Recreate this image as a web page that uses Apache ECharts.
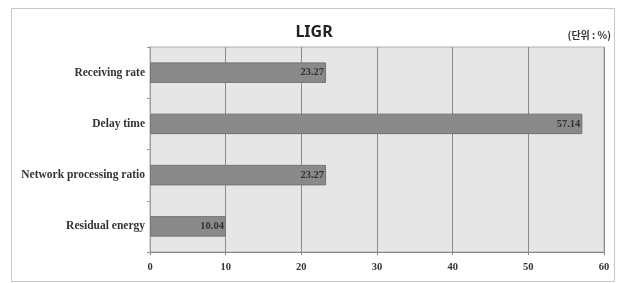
<!DOCTYPE html>
<html lang="en">
<head>
    <meta charset="UTF-8">
    <title>LIGR</title>
    <script src="https://cdn.jsdelivr.net/npm/echarts@6/dist/echarts.min.js"></script>
    <style>
        html, body { margin: 0; padding: 0; background: #fff; }
        #chart { width: 628px; height: 283px; }
    </style>
</head>
<body>
<div id="chart"></div>
<script type="text/javascript">
    // data (top to bottom)
    var categories = ['Receiving rate', 'Delay time', 'Network processing ratio', 'Residual energy'];
    var values = [23.27, 57.14, 23.27, 10.04];
    var xTicks = [0, 10, 20, 30, 40, 50, 60];

    var chart = echarts.init(document.getElementById('chart'));

    var option = {
        animation: false,
        backgroundColor: '#fff',
        title: {
            text: 'LIGR',
            left: 'center',
            top: 19,
            textStyle: {
                fontFamily: 'Noto Sans',
                fontSize: 16,
                fontWeight: 'bold',
                color: '#222'
            }
        },
        graphic: [{
            // outer frame
            type: 'rect',
            shape: { x: 11.5, y: 8.5, width: 603, height: 273 },
            style: { fill: 'none', stroke: '#c8c8c8', lineWidth: 1 },
            z: -1
        }, {
            type: 'text',
            right: 17,
            top: 30,
            style: {
                text: '(단위 : %)',
                font: 'bold 10px "Noto Sans CJK KR"',
                fill: '#333'
            }
        }],
        grid: {
            left: 150,
            right: 24,
            top: 47,
            bottom: 31,
            show: true,
            backgroundColor: '#e6e6e6',
            borderColor: '#b0b0b0',
            borderWidth: 1
        },
        xAxis: {
            type: 'value',
            min: xTicks[0],
            max: xTicks[xTicks.length - 1],
            interval: 10,
            axisLine: { show: true, lineStyle: { color: '#888' } },
            axisTick: { show: true, length: 3, lineStyle: { color: '#888' } },
            axisLabel: {
                margin: 10,
                fontFamily: 'Liberation Serif',
                fontSize: 10.5,
                fontWeight: 'bold',
                color: '#333'
            },
            splitLine: { show: true, lineStyle: { color: '#8a8a8a', width: 1 } }
        },
        yAxis: {
            type: 'category',
            inverse: true,
            data: categories,
            axisLine: { show: true, lineStyle: { color: '#999' } },
            axisTick: { show: true, length: 3, lineStyle: { color: '#999' } },
            axisLabel: {
                margin: 5,
                fontFamily: 'Liberation Serif',
                fontSize: 11.5,
                fontWeight: 'bold',
                color: '#333'
            }
        },
        series: [{
            type: 'bar',
            data: values,
            barWidth: '40%',
            itemStyle: {
                color: '#8a8a8a',
                borderColor: '#747474',
                borderWidth: 1
            },
            label: {
                show: true,
                position: 'insideRight',
                distance: 2,
                fontFamily: 'Liberation Serif',
                fontSize: 10.5,
                fontWeight: 'bold',
                color: '#333',
                formatter: function (p) { return p.value.toFixed(2); }
            }
        }]
    };

    chart.setOption(option);
</script>
</body>
</html>
